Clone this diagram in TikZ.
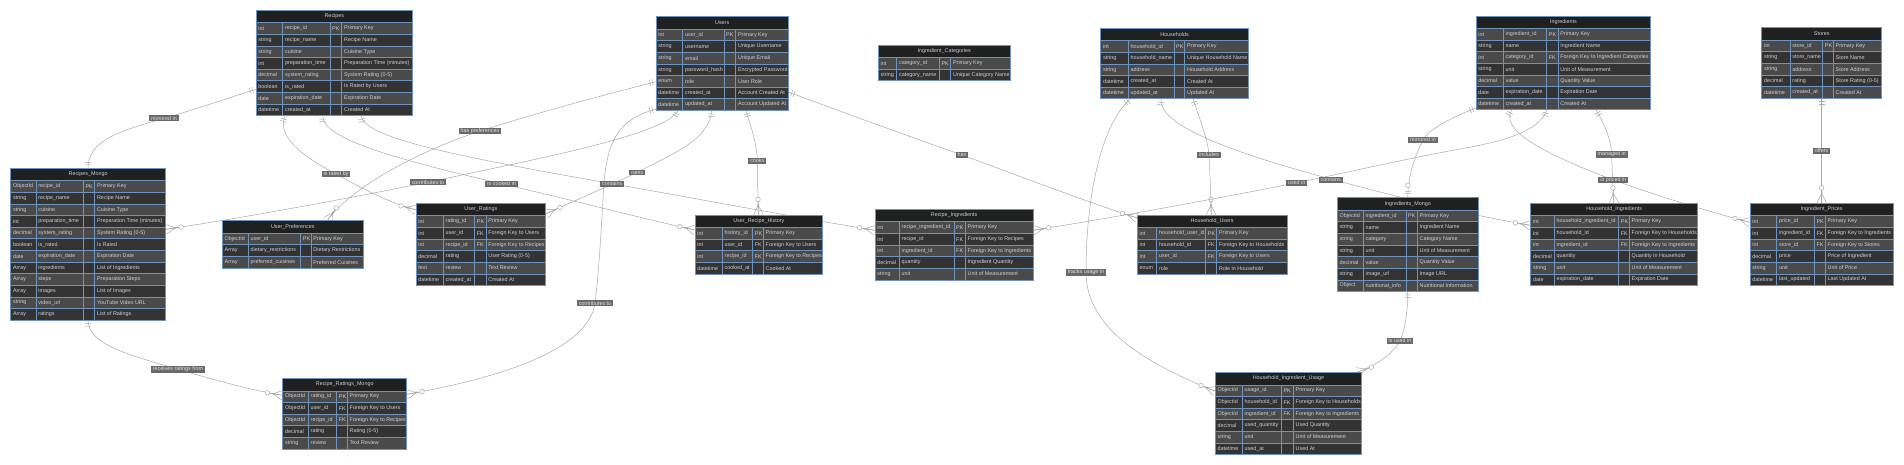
\documentclass[tikz,border=0pt]{standalone}
\usepackage{fontspec}
\newfontfamily\erff{Liberation Sans}
\usetikzlibrary{fit,decorations.markings}
\definecolor{hdrc}{HTML}{1F2020}
\definecolor{rowa}{HTML}{4A4A4A}
\definecolor{rowb}{HTML}{333333}
\definecolor{bordc}{HTML}{7093BE}
\definecolor{txtc}{HTML}{D0D0D0}
\definecolor{edgec}{HTML}{A9A9A9}
\definecolor{lblf}{HTML}{6A6A6A}
\definecolor{lblt}{HTML}{E4E4E4}
\pgfdeclarelayer{bg}\pgfdeclarelayer{edges}\pgfsetlayers{bg,edges,main}
\newcommand\erfont{\erff\fontsize{5.4pt}{6pt}\selectfont}
\tikzset{
  cell/.style={anchor=west, inner sep=0pt, text=txtc, font=\erfont},
  ertitle/.style={inner sep=0pt, text=txtc, font=\erfont},
  bline/.style={draw=bordc, line width=0.6pt},
  rel/.style={draw=edgec, line width=0.5pt},
  lbl/.style={fill=lblf, text=lblt, font=\erfont, inner xsep=2pt, inner ysep=0.9pt},
  oneS/.style={postaction={decorate,decoration={markings,mark=at position 0.0001 with {\draw[edgec,line width=0.5pt] (3.5pt,-3.2pt)--(3.5pt,3.2pt) (6pt,-3.2pt)--(6pt,3.2pt);}}}},
  oneE/.style={postaction={decorate,decoration={markings,mark=at position 0.9999 with {\draw[edgec,line width=0.5pt] (-3.5pt,-3.2pt)--(-3.5pt,3.2pt) (-6pt,-3.2pt)--(-6pt,3.2pt);}}}},
  manyE/.style={postaction={decorate,decoration={markings,mark=at position 0.9999 with {\draw[edgec,line width=0.5pt,fill=white] (-15.5pt,0pt) circle[radius=2.3pt]; \draw[edgec,line width=0.5pt] (-13.2pt,0pt)--(0pt,0pt) (-12.5pt,0pt) .. controls (-6pt,0pt) and (-4pt,4.5pt) .. (0pt,4.5pt) (-12.5pt,0pt) .. controls (-6pt,0pt) and (-4pt,-4.5pt) .. (0pt,-4.5pt);}}}},
  zoE/.style={postaction={decorate,decoration={markings,mark=at position 0.9999 with {\draw[edgec,line width=0.5pt,fill=white] (-12.5pt,0pt) circle[radius=2.3pt]; \draw[edgec,line width=0.5pt] (-4pt,-3.2pt)--(-4pt,3.2pt) (-6.3pt,-3.2pt)--(-6.3pt,3.2pt);}}}}
}
\newcommand\ertable[9]{%
  \pgfmathsetmacro\erHb{#3+12.5}%
  \fill[hdrc] (#2,#3) rectangle (#7,\erHb);
  \node[ertitle] (#1-title) at ({(#2+#7)/2},{(#3+\erHb)/2}) {#8};
  \foreach [count=\i] \ta/\tb/\tc/\td in {#9} {%
    \pgfmathsetmacro\ya{\erHb+(\i-1)*11.6}%
    \pgfmathsetmacro\yb{\ya+11.6}%
    \pgfmathsetmacro\ym{\ya+5.8}%
    \pgfmathtruncatemacro\erodd{mod(\i,2)}%
    \ifnum\erodd=1 \fill[rowa] (#2,\ya) rectangle (#7,\yb);\else \fill[rowb] (#2,\ya) rectangle (#7,\yb);\fi
    \draw[bline] (#2,\ya) rectangle (#7,\yb) (#4,\ya) -- (#4,\yb) (#5,\ya) -- (#5,\yb) (#6,\ya) -- (#6,\yb);
    \node[cell] (#1-\i-a) at (#2+2.2,\ym) {\ta};
    \node[cell] (#1-\i-b) at (#4+2.2,\ym) {\tb};
    \node[cell] (#1-\i-c) at (#5+2,\ym) {\tc};
    \node[cell] (#1-\i-d) at (#6+2.2,\ym) {\td};
    \xdef\erlast{\i}%
  }%
  \pgfmathsetmacro\erbot{\erHb+\erlast*11.6}%
  \draw[bline] (#2,#3) rectangle (#7,\erHb);
  \draw[bline] (#2,#3) rectangle (#7,\erbot);
  \node[inner sep=0pt, outer sep=0pt, fit={(#2,#3) (#7,\erbot)}] (#1) {};
}
\catcode`\_=12
\begin{document}
\begin{tikzpicture}[x=1pt,y=-1pt]
\useasboundingbox (0,0) rectangle (1904,465);
\begin{pgfonlayer}{bg}
\fill[white] (0,0) rectangle (1904,465);
\end{pgfonlayer}

\ertable{recipes}{256}{10.3}{282.7}{330}{341.7}{412.7}{Recipes}{int/recipe_id/PK/Primary Key, string/recipe_name/{}/Recipe Name, string/cuisine/{}/Cuisine Type, int/preparation_time/{}/Preparation Time (minutes), decimal/system_rating/{}/System Rating (0-5), boolean/is_rated/{}/Is Rated by Users, date/expiration_date/{}/Expiration Date, datetime/created_at/{}/Created At}

\ertable{users}{656}{16.7}{682.7}{724}{735.7}{788.3}{Users}{int/user_id/PK/Primary Key, string/username/{}/Unique Username, string/email/{}/Unique Email, string/password_hash/{}/Encrypted Password, enum/role/{}/User Role, datetime/created_at/{}/Account Created At, datetime/updated_at/{}/Account Updated At}

\ertable{ingcat}{878.3}{45}{896.7}{939.3}{950.7}{1010}{Ingredient_Categories}{int/category_id/PK/Primary Key, string/category_name/{}/Unique Category Name}

\ertable{households}{1100.7}{28.3}{1128.3}{1174}{1184.7}{1248.3}{Households}{int/household_id/PK/Primary Key, string/household_name/{}/Unique Household Name, string/address/{}/Household Address, datetime/created_at/{}/Created At, datetime/updated_at/{}/Updated At}

\ertable{ingredients}{1476}{16}{1503.3}{1546.7}{1558}{1650.7}{Ingredients}{int/ingredient_id/PK/Primary Key, string/name/{}/Ingredient Name, int/category_id/FK/Foreign Key to Ingredient Categories, string/unit/{}/Unit of Measurement, decimal/value/{}/Quantity Value, date/expiration_date/{}/Expiration Date, datetime/created_at/{}/Created At}

\ertable{stores}{1761.7}{27.7}{1790}{1822.7}{1833.3}{1881.7}{Stores}{int/store_id/PK/Primary Key, string/store_name/{}/Store Name, string/address/{}/Store Address, decimal/rating/{}/Store Rating (0-5), datetime/created_at/{}/Created At}

\ertable{recmongo}{10.7}{168.3}{36}{83.3}{94.7}{165.7}{Recipes_Mongo}{ObjectId/recipe_id/PK/Primary Key, string/recipe_name/{}/Recipe Name, string/cuisine/{}/Cuisine Type, int/preparation_time/{}/Preparation Time (minutes), decimal/system_rating/{}/System Rating (0-5), boolean/is_rated/{}/Is Rated, date/expiration_date/{}/Expiration Date, Array/ingredients/{}/List of Ingredients, Array/steps/{}/Preparation Steps, Array/images/{}/List of Images, string/video_url/{}/YouTube Video URL, Array/ratings/{}/List of Ratings}

\ertable{userpref}{222.3}{220.7}{248.3}{300.7}{311}{363.3}{User_Preferences}{ObjectId/user_id/PK/Primary Key, Array/dietary_restrictions/{}/Dietary Restrictions, Array/preferred_cuisines/{}/Preferred Cuisines}

\ertable{userrat}{416}{203.3}{443.3}{474.7}{486}{545.7}{User_Ratings}{int/rating_id/PK/Primary Key, int/user_id/FK/Foreign Key to Users, int/recipe_id/FK/Foreign Key to Recipes, decimal/rating/{}/User Rating (0-5), text/review/{}/Text Review, datetime/created_at/{}/Created At}

\ertable{urh}{695}{215}{722.3}{752.7}{763.3}{822.7}{User_Recipe_History}{int/history_id/PK/Primary Key, int/user_id/FK/Foreign Key to Users, int/recipe_id/FK/Foreign Key to Recipes, datetime/cooked_at/{}/Cooked At}

\ertable{recing}{875}{209.3}{899.3}{954}{965.3}{1033.3}{Recipe_Ingredients}{int/recipe_ingredient_id/PK/Primary Key, int/recipe_id/FK/Foreign Key to Recipes, int/ingredient_id/FK/Foreign Key to Ingredients, decimal/quantity/{}/Ingredient Quantity, string/unit/{}/Unit of Measurement}

\ertable{hhusers}{1137.3}{215}{1156.7}{1205.7}{1216.7}{1287}{Household_Users}{int/household_user_id/PK/Primary Key, int/household_id/FK/Foreign Key to Households, int/user_id/FK/Foreign Key to Users, enum/role/{}/Role in Household}

\ertable{ingmongo}{1337.3}{197.7}{1363.3}{1406}{1417.3}{1478.3}{Ingredients_Mongo}{ObjectId/ingredient_id/PK/Primary Key, string/name/{}/Ingredient Name, string/category/{}/Category Name, string/unit/{}/Unit of Measurement, decimal/value/{}/Quantity Value, string/image_url/{}/Image URL, Object/nutritional_info/{}/Nutritional Information}

\ertable{hhing}{1530.7}{203.3}{1554.3}{1618.7}{1629.3}{1697.7}{Household_Ingredients}{int/household_ingredient_id/PK/Primary Key, int/household_id/FK/Foreign Key to Households, int/ingredient_id/FK/Foreign Key to Ingredients, decimal/quantity/{}/Quantity in Household, string/unit/{}/Unit of Measurement, date/expiration_date/{}/Expiration Date}

\ertable{ingprices}{1750}{203.3}{1776.7}{1814.3}{1825.3}{1893.3}{Ingredient_Prices}{int/price_id/PK/Primary Key, int/ingredient_id/FK/Foreign Key to Ingredients, int/store_id/FK/Foreign Key to Stores, decimal/price/{}/Price of Ingredient, string/unit/{}/Unit of Price, datetime/last_updated/{}/Last Updated At}

\ertable{rrmongo}{282.7}{378.3}{308.3}{336.7}{347.3}{406.7}{Recipe_Ratings_Mongo}{ObjectId/rating_id/PK/Primary Key, ObjectId/user_id/FK/Foreign Key to Users, ObjectId/recipe_id/FK/Foreign Key to Recipes, decimal/rating/{}/Rating (0-5), string/review/{}/Text Review}

\ertable{hhusage}{1215.3}{372.3}{1242.3}{1281.3}{1293.3}{1361.7}{Household_Ingredient_Usage}{ObjectId/usage_id/PK/Primary Key, ObjectId/household_id/FK/Foreign Key to Households, ObjectId/ingredient_id/FK/Foreign Key to Ingredients, decimal/used_quantity/{}/Used Quantity, string/unit/{}/Unit of Measurement, datetime/used_at/{}/Used At}

\begin{pgfonlayer}{edges}
% Recipes -> Recipes_Mongo
\draw[rel,oneS,oneE] ([yshift=-79pt]recipes.north west) .. controls (222,100) and (200,108) .. (164,118.3) .. controls (120,131) and (88,140) .. ([xshift=77.3pt]recmongo.north west);
% Recipes -> User_Ratings
\draw[rel,oneS,manyE] ([xshift=29pt]recipes.south west) .. controls (278,135) and (295,152) .. (336,174) .. controls (365,190) and (390,203) .. ([yshift=-6.5pt]userrat.north west);
% Recipes -> User_Recipe_History
\draw[rel,oneS,manyE] ([xshift=66.7pt]recipes.south west) .. controls (322,138) and (390,158) .. (501.7,183.7) .. controls (580,202) and (640,218) .. ([yshift=-15pt]urh.north west);
% Recipes -> Recipe_Ingredients
\draw[rel,oneS,manyE] ([xshift=104.7pt]recipes.south west) .. controls (366,136) and (430,152) .. (612.3,183.7) .. controls (720,203) and (800,218) .. ([yshift=-21pt]recing.north west);
% Recipes_Mongo -> Recipe_Ratings_Mongo
\draw[rel,oneS,manyE] ([xshift=77.3pt]recmongo.south west) .. controls (88,345) and (130,355) .. (178,369.3) .. controls (215,380) and (250,390) .. ([yshift=-17pt]rrmongo.north west);
% Users -> User_Preferences
\draw[rel,oneS,manyE] ([yshift=-65pt]users.north west) .. controls (600,96) and (540,112) .. (480,131) .. controls (400,158) and (345,195) .. ([xshift=105pt]userpref.north west);
% Users -> Recipes_Mongo
\draw[rel,oneS,manyE] ([xshift=22.3pt]users.south west) .. controls (665,135) and (540,158) .. (428,182.3) .. controls (330,202) and (230,220) .. ([yshift=-61pt]recmongo.north east);
% Users -> Recipe_Ratings_Mongo
\draw[rel,oneS,manyE] ([yshift=-92.5pt]users.north west) .. controls (615,120) and (605,145) .. (603,200) .. controls (600,250) and (598,280) .. (595,303.3) .. controls (588,350) and (500,378) .. ([yshift=-16pt]rrmongo.north east);
% Users -> User_Ratings
\draw[rel,oneS,manyE] ([xshift=55.7pt]users.south west) .. controls (710,140) and (670,155) .. (637.3,172.3) .. controls (600,190) and (570,203) .. ([yshift=-10.5pt]userrat.north east);
% Users -> User_Recipe_History
\draw[rel,oneS,manyE] ([xshift=90pt]users.south west) .. controls (752,130) and (757,145) .. (757.3,161) .. controls (757.5,180) and (758,200) .. ([xshift=63.3pt]urh.north west);
% Users -> Household_Users
\draw[rel,oneS,manyE] ([yshift=-75.3pt]users.north east) .. controls (850,115) and (900,133) .. (962,155) .. controls (1030,180) and (1090,203) .. ([yshift=-3pt]hhusers.north west);
% Households -> Household_Users
\draw[rel,oneS,manyE] ([xshift=92.3pt]households.south west) .. controls (1200,120) and (1208,140) .. (1209,155) .. controls (1210,175) and (1211,195) .. ([xshift=73.7pt]hhusers.north west);
% Households -> Household_Ingredient_Usage
\draw[rel,oneS,manyE] ([xshift=30pt]households.south west) .. controls (1100,125) and (1086,200) .. (1086,272.3) .. controls (1086,330) and (1150,365) .. ([yshift=-19pt]hhusage.north west);
% Households -> Household_Ingredients
\draw[rel,oneS,manyE] ([xshift=60.3pt]households.south west) .. controls (1158,125) and (1230,152) .. (1330.7,179) .. controls (1420,203) and (1480,217) .. ([yshift=-22pt]hhing.north west);
% Ingredients -> Recipe_Ingredients
\draw[rel,oneS,manyE] ([xshift=70.7pt]ingredients.south west) .. controls (1540,132) and (1500,142) .. (1460,149) .. controls (1400,160) and (1350,172) .. (1296.7,182.7) .. controls (1200,202) and (1110,218) .. ([yshift=-21pt]recing.north east);
% Ingredients -> Ingredients_Mongo
\draw[rel,oneS,zoE] ([yshift=-92pt]ingredients.north west) .. controls (1450,118) and (1428,130) .. (1423,140) .. controls (1412,162) and (1408,180) .. ([xshift=70.4pt]ingmongo.north west);
% Ingredients_Mongo -> Household_Ingredient_Usage
\draw[rel,oneS,manyE] ([xshift=70.4pt]ingmongo.south west) .. controls (1408,310) and (1405,330) .. (1400,340.7) .. controls (1392,355) and (1375,366) .. ([xshift=-5pt]hhusage.north east);
% Ingredients -> Household_Ingredients
\draw[rel,oneS,manyE] ([xshift=120pt]ingredients.south west) .. controls (1605,125) and (1611,140) .. (1611.7,154.3) .. controls (1612,170) and (1613,190) .. ([xshift=83.3pt]hhing.north west);
% Ingredients -> Ingredient_Prices
\draw[rel,oneS,manyE] ([xshift=35.7pt]ingredients.south west) .. controls (1500,130) and (1540,152) .. (1613.3,180) .. controls (1670,200) and (1710,212) .. ([yshift=-19pt]ingprices.north west);
% Stores -> Ingredient_Prices
\draw[rel,oneS,manyE] ([xshift=60pt]stores.south west) -- ([xshift=71.7pt]ingprices.north west);
\end{pgfonlayer}

\node[lbl] (l1) at (164,118.3) {mirrored in};
\node[lbl] (l2) at (336,174) {is rated by};
\node[lbl] (l3) at (501.7,183.7) {is cooked in};
\node[lbl] (l4) at (612.3,183.7) {contains};
\node[lbl] (l5) at (178,369.3) {receives ratings from};
\node[lbl] (l6) at (480,131) {has preferences};
\node[lbl] (l7) at (428,182.3) {contributes to};
\node[lbl] (l8) at (595,303.3) {contributes to};
\node[lbl] (l9) at (637.3,172.3) {rates};
\node[lbl] (l10) at (757.3,161) {cooks};
\node[lbl] (l11) at (962,155) {has};
\node[lbl] (l12) at (1209,155) {includes};
\node[lbl] (l13) at (1086,272.3) {tracks usage in};
\node[lbl] (l14) at (1330.7,180) {contains};
\node[lbl] (l15) at (1296.7,182.7) {used in};
\node[lbl] (l16) at (1423,140) {mirrored in};
\node[lbl] (l17) at (1400,340.7) {is used in};
\node[lbl] (l18) at (1611.7,154.3) {managed in};
\node[lbl] (l19) at (1613.3,180) {is priced in};
\node[lbl] (l20) at (1821.7,151) {offers};
\end{tikzpicture}
\end{document}
